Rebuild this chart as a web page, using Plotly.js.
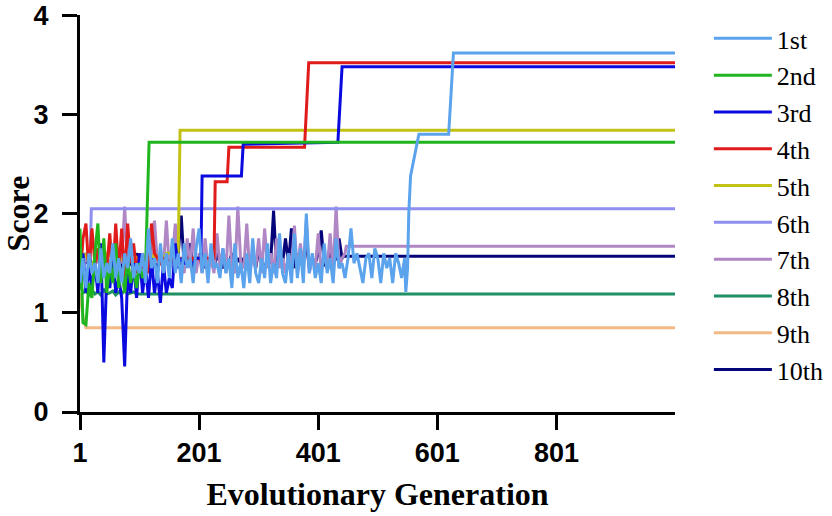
<!DOCTYPE html>
<html>
<head>
<meta charset="utf-8">
<script src="https://cdn.plot.ly/plotly-3.0.1.min.js"></script>
<style>html,body{margin:0;padding:0;background:#fff;}#chart{width:832px;height:516px;}</style>
</head>
<body>
<div id="chart"></div>
<script>
// Series names and colours
const names = ["1st","2nd","3rd","4th","5th","6th","7th","8th","9th","10th"];
const colors = ["#5ba3ec","#1fb51f","#0a0ae0","#e01b1b","#c2c214","#8f8ff0","#b087c4","#1e9064","#f2b886","#05057a"];

// Noisy early phase: one score sampled every 5 generations starting at generation 1
const STEP = 5;
const noise1 = [1.3,1.55,1.25,1.6,1.4,1.5,1.3,1.65,1.35,1.5,
  1.4,1.7,1.35,1.55,1.3,1.6,1.45,1.75,1.35,1.5,
  1.4,1.6,1.3,1.85,1.45,1.55,1.3,1.7,1.4,1.6,
  1.35,1.75,1.4,1.6,1.3,1.7,1.45,1.55,1.3,1.65,
  1.85,1.4,1.6,1.3,1.7,1.45,1.5,1.35,1.65,1.4,
  1.55,1.25,1.7,1.35,1.5,1.25,1.6,1.3,1.75,1.4,
  1.3,1.55,1.35,1.7,1.3,1.5,1.35,1.8,1.4,1.3,
  1.6,1.3,1.8,1.35,1.65,1.3,2.0,1.4,1.6,1.35,
  1.5,1.3,1.7,1.4,1.55,1.3,1.75,1.45,1.5,1.35,
  1.55,1.85,1.5,1.6,1.45,1.3,1.55,1.6,1.35,1.65,
  1.55,1.3,1.6,1.45,1.55,1.3,1.6,1.5,1.35,1.55];
const noise2 = [1.85,0.9,0.88,1.3,1.15,1.6,1.9,1.3,1.75,1.2,1.5,1.3,1.7,1.25,1.45,1.2,1.55,1.3,1.45,1.25,1.5,1.35,1.45];
const noise3 = [1.3,1.6,1.2,1.45,1.25,1.5,1.2,1.7,0.5,1.4,
  1.25,1.55,1.2,1.35,1.15,0.46,1.4,1.2,1.5,1.15,
  1.6,1.2,1.45,1.15,1.55,1.2,1.4,1.1,1.5,1.2,
  1.35,1.25,1.7,1.45,1.55,1.5,1.5,1.5,1.5,1.55,1.55];
const noise4 = [1.3,1.75,1.9,1.4,1.85,1.5,1.65,1.35,1.6,1.45,
  1.8,1.35,1.9,1.4,1.85,1.35,1.9,1.5,1.7,1.4,
  1.6,1.45,1.55,1.4,1.9,1.6,1.55,1.5,1.55,1.55,
  1.5,1.55,1.55,1.5,1.55,1.55,1.55,1.5,1.55,1.55,
  1.55,1.5,1.55,1.55,1.55,1.55];
const noise5 = [1.5,1.55,1.6,1.5,1.45,1.55,1.55,1.5,1.5,1.6,
  1.6,1.5,1.45,1.55,1.55,1.5,1.5,1.6,1.5,1.55,
  1.5,1.55,1.5,1.55,1.5,1.6,1.55,1.6,1.55,1.6,
  1.6,1.61,1.61,1.62];
const noise6 = [1.6,1.55,1.6,1.5];
const noise7 = [1.5,1.45,1.55,1.5,1.45,1.5,1.55,1.45,1.5,1.45,
  1.5,1.6,1.45,1.55,1.5,2.07,1.45,1.6,1.5,1.55,
  1.45,1.6,1.5,1.55,1.45,1.93,1.5,1.6,1.45,1.93,
  1.45,1.55,1.9,1.45,1.5,1.4,1.75,1.45,1.85,1.4,
  1.6,1.4,1.75,1.45,1.55,1.4,1.8,1.45,1.65,1.4,
  1.98,1.45,1.4,2.07,1.5,1.45,1.9,1.4,1.6,1.45,
  1.75,1.4,1.85,1.45,1.6,1.4,1.75,1.45,1.55,1.4,
  1.6,1.45,1.88,1.4,1.7,1.45,1.93,1.4,1.55,1.45,
  1.8,1.4,1.6,1.45,1.8,1.4,2.07,1.45,1.55,1.6];
const noise8 = [1.3,1.2,1.22,1.18,1.23,1.19,1.21,1.18,1.24,1.19,1.2,1.22,1.18,1.21,1.19,1.23,1.19,1.2,1.21,1.19];
const noise9 = [1.2,0.95];
const noise10 = [1.45,1.55,1.5,1.6,1.45,1.5,1.55,1.45,1.6,1.5,
  1.45,1.55,1.5,1.6,1.45,1.5,1.55,1.5,1.45,1.6,
  1.5,1.45,1.55,1.5,1.6,1.73,1.45,1.55,1.5,1.6,
  1.45,1.55,1.5,1.6,1.98,1.45,1.55,1.7,1.45,1.55,
  1.5,1.6,1.45,1.55,1.5,1.45,1.6,1.5,1.45,1.55,
  1.5,1.6,1.45,1.55,1.5,1.55,1.45,1.5,1.6,1.45,
  1.63,1.5,1.45,1.55,1.5,2.03,1.45,1.6,1.5,1.75,
  1.5,1.85,1.45,1.6,1.5,1.55,1.7,1.45,1.55,1.5,
  1.6,1.83,1.5,1.45,1.65,1.5,1.55,1.75,1.55];

// Later phase: (generation, score) breakpoints up to generation 1000
const tailGen1 = [548,551,553,556,570,620,628,1000];
const tailVal1 = [1.21,1.45,2.0,2.38,2.8,2.8,3.62,3.62];
const tailGen2 = [113,117,1000];
const tailVal2 = [1.8,2.72,2.72];
const tailGen3 = [204,206,272,275,434,441,1000];
const tailVal3 = [1.55,2.38,2.38,2.7,2.72,3.48,3.48];
const tailGen4 = [228,248,251,378,385,1000];
const tailVal4 = [2.32,2.32,2.67,2.67,3.52,3.52];
const tailGen5 = [169,1000];
const tailVal5 = [2.84,2.84];
const tailGen6 = [18,20,1000];
const tailVal6 = [1.55,2.05,2.05];
const tailGen7 = [448,1000];
const tailVal7 = [1.67,1.67];
const tailGen8 = [101,1000];
const tailVal8 = [1.19,1.19];
const tailGen9 = [11,1000];
const tailVal9 = [0.85,0.85];
const tailGen10 = [444,1000];
const tailVal10 = [1.57,1.57];

const xTicks = [1,201,401,601,801];
const yTicks = [0,1,2,3,4];

const noises = [noise1,noise2,noise3,noise4,noise5,noise6,noise7,noise8,noise9,noise10];
const tailGens = [tailGen1,tailGen2,tailGen3,tailGen4,tailGen5,tailGen6,tailGen7,tailGen8,tailGen9,tailGen10];
const tailVals = [tailVal1,tailVal2,tailVal3,tailVal4,tailVal5,tailVal6,tailVal7,tailVal8,tailVal9,tailVal10];

const traces = [];
for (let k = names.length - 1; k >= 0; k--) {
  const xs = noises[k].map((v, i) => 1 + i * STEP).concat(tailGens[k]);
  const ys = noises[k].concat(tailVals[k]);
  traces.push({
    x: xs, y: ys, type: "scatter", mode: "lines", name: names[k],
    line: {color: colors[k], width: 3}
  });
}

const tickFont = {family: "Liberation Sans, Arial, sans-serif", size: 27, color: "#000", weight: "bold"};
const titleFont = {family: "Liberation Serif, Times New Roman, serif", size: 32, color: "#000", weight: "bold"};

const layout = {
  width: 832, height: 516,
  margin: {l: 80, r: 157, t: 15, b: 104},
  paper_bgcolor: "#fff", plot_bgcolor: "#fff",
  showlegend: true,
  legend: {
    traceorder: "reversed",
    xref: "container", yref: "container",
    x: 0.852, xanchor: "left", y: 0.971, yanchor: "top",
    maxheight: 480,
    font: {family: "Liberation Serif, Times New Roman, serif", size: 26, color: "#000"},
    itemwidth: 58, bgcolor: "rgba(0,0,0,0)"
  },
  xaxis: {
    range: [1, 1000], tickmode: "array", tickvals: xTicks, ticktext: xTicks.map(String),
    showgrid: false, zeroline: false, showline: true, linecolor: "#000", linewidth: 3,
    ticks: "outside", ticklen: 15, tickwidth: 3, tickcolor: "#000",
    tickfont: tickFont,
    title: {text: "Evolutionary Generation", font: titleFont, standoff: 16}
  },
  yaxis: {
    range: [0, 4.002], tickmode: "array", tickvals: yTicks, ticktext: yTicks.map(String),
    showgrid: false, zeroline: false, showline: true, linecolor: "#000", linewidth: 3,
    ticks: "outside", ticklen: 15, tickwidth: 3, tickcolor: "#000",
    tickfont: tickFont, ticklabelstandoff: 8,
    title: {text: "Score", font: titleFont, standoff: 8}
  }
};

Plotly.newPlot("chart", traces, layout, {staticPlot: true, displayModeBar: false});
</script>
</body>
</html>
